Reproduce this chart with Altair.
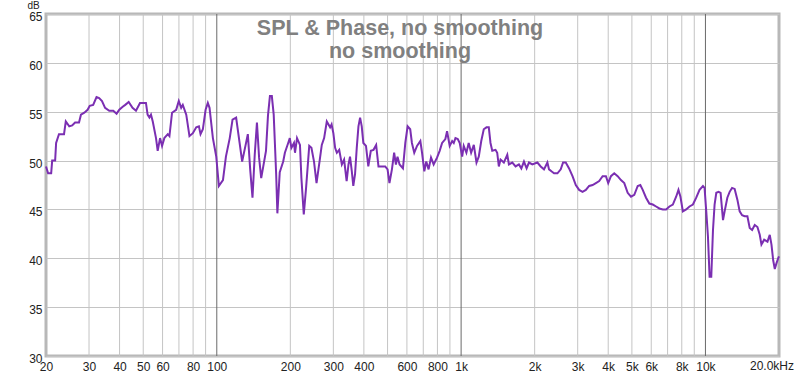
import altair as alt
import pandas as pd

# Frequency response (Hz, dB)
freq = [20, 20.4, 21.0, 21.2, 21.8, 22.0, 22.6, 23.7, 24.1, 24.9, 25.6, 26.3, 27.3, 27.8, 28.7, 29.6,
        30.2, 31.2, 32.2, 33.0, 33.9, 34.9, 36.3, 37.7, 38.9, 39.9, 41.2, 42.2, 43.6, 45.2, 46.7, 48.5,
        51.3, 52.1, 53.0, 53.8, 54.7, 56.4, 57.3, 58.6, 59.7, 61.0, 63.0, 64.0, 65.6, 68.2, 69.9, 71.5,
        72.6, 75.0, 77.3, 79.8, 82.4, 84.5, 85.8, 87.7, 90.0, 91.9, 93.4, 96.4, 99.5, 102, 106, 109,
        113, 116, 120, 124, 127, 131, 134, 137, 140, 143, 146, 149, 152, 159, 162, 165, 168, 171, 175,
        177, 181, 187, 190, 196, 199, 202, 207, 209, 213, 219, 222, 227, 232, 239, 244, 250, 256, 264,
        269, 275, 282, 291, 295, 300, 305, 310, 317, 325, 332, 340, 346, 351, 357, 362, 368, 374, 380,
        386, 392, 398, 408, 417, 427, 438, 449, 459, 474, 489, 500, 509, 521, 532, 541, 549, 560, 578,
        591, 604, 619, 629, 643, 660, 681, 692, 707, 720, 736, 753, 772, 797, 817, 836, 862, 876, 898,
        919, 933, 948, 969, 987, 1010, 1025, 1051, 1074, 1099, 1127, 1156, 1181, 1209, 1238, 1270, 1298,
        1319, 1341, 1383, 1405, 1427, 1450, 1496, 1545, 1569, 1620, 1671, 1724, 1764, 1808, 1854, 1895,
        1957, 2052, 2117, 2184, 2255, 2290, 2342, 2401, 2479, 2557, 2614, 2681, 2766, 2857, 2947, 3041,
        3140, 3240, 3342, 3452, 3561, 3674, 3794, 3914, 4000, 4104, 4234, 4372, 4510, 4653, 4805, 4957,
        5114, 5282, 5413, 5537, 5713, 5893, 6086, 6280, 6479, 6691, 6903, 7122, 7354, 7587, 7754, 7902,
        8083, 8340, 8604, 8886, 9168, 9459, 9768, 9917, 10077, 10240, 10397, 10564, 10736, 10900, 11077,
        11320, 11535, 11800, 11981, 12290, 12561, 12850, 13169, 13510, 13807, 14125, 14476, 14850, 15176,
        15525, 15911, 16322, 16682, 16951, 17389, 17941, 18334, 18632, 18934, 19223, 19535, 19851, 20000]
spl = [49.4, 48.7, 48.7, 50.0, 50.0, 51.8, 52.7, 52.7, 54.0, 53.5, 53.6, 53.9, 53.9, 54.7, 54.9, 55.2,
       55.6, 55.7, 56.5, 56.4, 56.1, 55.4, 55.1, 55.1, 54.8, 55.2, 55.5, 55.7, 56.0, 55.4, 55.1, 55.9,
       55.9, 54.7, 54.4, 54.7, 54.0, 52.3, 51.0, 52.3, 51.5, 52.3, 52.7, 52.5, 54.9, 55.2, 56.1, 55.4,
       55.7, 54.7, 52.5, 52.8, 53.4, 53.5, 52.7, 53.2, 55.2, 55.9, 55.4, 52.3, 50.4, 47.4, 48.0, 50.4,
       52.3, 54.2, 54.4, 51.8, 49.9, 51.5, 52.7, 49.1, 46.2, 50.6, 53.9, 50.3, 48.2, 51.0, 54.6, 56.6,
       56.6, 54.7, 48.6, 44.6, 48.8, 49.9, 50.8, 51.8, 52.3, 51.3, 51.8, 50.8, 52.3, 51.6, 48.2, 44.5,
       47.2, 51.5, 51.3, 49.9, 47.7, 50.1, 51.6, 52.3, 54.0, 53.4, 53.7, 52.8, 51.3, 50.8, 51.1, 49.6,
       50.1, 47.9, 49.6, 50.4, 48.9, 47.4, 48.6, 51.3, 53.5, 54.4, 53.5, 51.8, 51.5, 49.4, 51.0, 51.1,
       51.6, 49.4, 49.4, 49.4, 49.1, 47.7, 49.1, 50.8, 49.6, 50.4, 49.6, 49.2, 51.8, 53.5, 53.2, 51.8,
       50.8, 51.5, 52.0, 50.8, 48.9, 49.9, 49.1, 50.3, 49.6, 50.3, 51.0, 51.8, 52.2, 53.0, 51.5, 52.0,
       51.8, 52.3, 52.2, 51.8, 50.4, 51.5, 50.8, 51.8, 50.8, 51.6, 49.8, 50.4, 52.0, 53.2, 53.4, 53.4,
       51.8, 51.0, 51.1, 50.8, 49.4, 50.1, 49.8, 50.6, 49.6, 49.8, 49.4, 49.6, 49.2, 49.9, 49.2, 49.8,
       49.6, 49.8, 49.4, 49.1, 49.8, 49.1, 48.9, 48.7, 48.7, 49.1, 49.8, 49.8, 49.2, 48.4, 47.5, 47.0,
       46.8, 47.0, 47.4, 47.5, 47.7, 47.9, 48.4, 48.4, 47.7, 48.4, 48.7, 48.4, 48.0, 47.7, 46.7, 46.3,
       46.5, 47.4, 47.5, 47.0, 46.2, 45.6, 45.5, 45.3, 45.1, 45.0, 45.0, 45.3, 45.5, 46.3, 47.0, 46.3,
       44.8, 45.0, 45.3, 45.5, 46.2, 47.0, 47.4, 47.2, 44.8, 42.2, 38.1, 38.1, 42.9, 45.5, 46.7,
       46.8, 46.7, 43.9, 44.8, 46.2, 46.8, 47.2, 47.1, 46.0, 44.8, 44.4, 44.3, 44.3, 43.1,
       42.9, 43.4, 43.2, 42.4, 41.4, 41.9, 41.7, 42.4, 41.4, 39.8, 38.9, 39.5, 40.0, 40.2]

minor_grid = [30, 40, 50, 60, 70, 80, 90, 200, 300, 400, 500, 600, 700, 800, 900,
              2000, 3000, 4000, 5000, 6000, 7000, 8000, 9000]
decade_grid = [100, 1000, 10000]
tick_values = [20, 30, 40, 50, 60, 80, 100, 200, 300, 400, 600, 800, 1000,
               2000, 3000, 4000, 5000, 6000, 8000, 10000]
tick_labels = ["20", "30", "40", "50", "60", "80", "100", "200", "300", "400", "600", "800", "1k",
               "2k", "3k", "4k", "5k", "6k", "8k", "10k"]
last_tick = [20000]
last_label = ["20.0kHz"]
y_ticks = [30, 35, 40, 45, 50, 55, 60, 65]
title_lines = ["SPL & Phase, no smoothing", "no smoothing"]

W, H = 733, 342
FONT = "Liberation Sans"

curve = pd.DataFrame({"f": freq, "db": spl})
xscale = alt.Scale(type="log", domain=[20, 20000], nice=False)
yscale = alt.Scale(domain=[30, 65], nice=False, zero=False)

label_expr = ("[" + ",".join(f"'{l}'" for l in tick_labels) + "][indexof(["
              + ",".join(str(v) for v in tick_values) + "], datum.value)]")

xaxis = alt.Axis(values=tick_values, labelExpr=label_expr, title=None, grid=False,
                 ticks=False, domain=False, labelPadding=5, labelFontSize=12,
                 labelColor="#222222", labelFont=FONT, labelFlush=False,
                 labelOverlap=False)

minor = alt.Chart(pd.DataFrame({"f": minor_grid})).mark_rule(
    color="#c4c4c4", strokeWidth=1
).encode(x=alt.X("f:Q", scale=xscale, axis=xaxis))

decade = alt.Chart(pd.DataFrame({"f": decade_grid})).mark_rule(
    color="#6a6a6a", strokeWidth=1
).encode(x=alt.X("f:Q", scale=xscale, axis=xaxis))

line = alt.Chart(curve).mark_line(color="#7b2fb2", strokeWidth=2).encode(
    x=alt.X("f:Q", scale=xscale, axis=xaxis),
    y=alt.Y("db:Q", scale=yscale,
            axis=alt.Axis(values=y_ticks, grid=True, gridColor="#c4c4c4", ticks=False,
                          domain=False, labelPadding=4, labelOffset=2.5, labelFontSize=12,
                          labelColor="#222222", labelFont=FONT, title="dB", titleAngle=0,
                          titleX=-13, titleY=-14, titleAlign="center",
                          titleBaseline="top", titleFontSize=10,
                          titleFontWeight="normal", titleFont=FONT, titleColor="#222222")),
)

last = alt.Chart(pd.DataFrame({"f": last_tick, "t": last_label})).mark_text(
    align="center", baseline="top", dx=-7, fontSize=12, font=FONT, color="#222222"
).encode(x=alt.X("f:Q", scale=xscale, axis=xaxis), y=alt.value(H + 5), text="t:N")

title = alt.Chart(pd.DataFrame({"a": [0]})).mark_text(
    text=title_lines, align="center", baseline="alphabetic", fontSize=21.5, fontWeight="bold",
    font=FONT, color="#808080", lineHeight=23
).encode(x=alt.value(354), y=alt.value(21))

chart = alt.layer(minor, decade, line, last, title).properties(
    width=W, height=H,
    autosize=alt.AutoSizeParams(type="none"),
    padding={"left": 46, "top": 14, "right": 21, "bottom": 21},
    background="white",
).configure_view(stroke="#b8b8b8", strokeWidth=3)

chart.save("out.html", embed_options={"renderer": "svg", "actions": False})
